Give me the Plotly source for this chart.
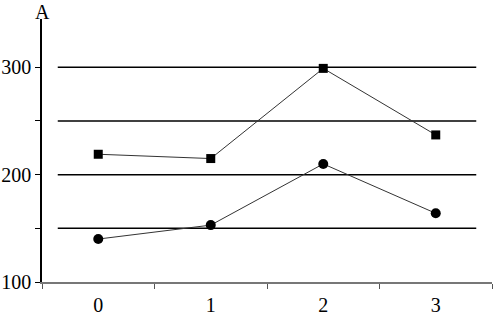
import plotly.graph_objects as go

categories = ["0", "1", "2", "3"]
square_values = [219, 215, 299, 237]
circle_values = [140, 153, 210, 164]
grid_values = [150, 200, 250, 300]
y_tick_vals = [100, 150, 200, 250, 300]
y_tick_text = ["100", "", "200", "", "300"]

FONT = "Liberation Serif, Times New Roman, serif"

fig = go.Figure()
fig.add_trace(go.Scatter(
    x=categories, y=square_values, mode="lines+markers",
    line=dict(color="#333333", width=1),
    marker=dict(symbol="square", size=9, color="black"),
    showlegend=False))
fig.add_trace(go.Scatter(
    x=categories, y=circle_values, mode="lines+markers",
    line=dict(color="#333333", width=1),
    marker=dict(symbol="circle", size=10, color="black"),
    showlegend=False))

for g in grid_values:
    fig.add_shape(type="line", xref="x", yref="y",
                  x0=-0.36, x1=3.36, y0=g, y1=g,
                  line=dict(color="black", width=1.5), layer="below")

fig.add_annotation(text="A", xref="paper", yref="paper", x=0, y=1,
                   xanchor="center", yanchor="bottom", showarrow=False,
                   font=dict(family=FONT, size=20, color="black"), yshift=-6)

fig.update_layout(
    width=494, height=317,
    margin=dict(l=42, r=2, t=19, b=35, autoexpand=False),
    plot_bgcolor="white", paper_bgcolor="white",
    font=dict(family=FONT, size=20, color="black"),
    xaxis=dict(type="category", range=[-0.5, 3.5], tickson="boundaries",
               showline=True, linecolor="#777777", linewidth=2,
               ticks="outside", ticklen=5, tickcolor="#555555", tickwidth=1,
               showgrid=False, zeroline=False, ticklabelstandoff=4,
               automargin=False, fixedrange=True),
    yaxis=dict(range=[100, 345], tickvals=y_tick_vals, ticktext=y_tick_text,
               showline=True, linecolor="black", linewidth=1.5,
               ticks="outside", ticklen=5, tickcolor="black", tickwidth=1,
               showgrid=False, zeroline=False, ticklabelstandoff=0,
               automargin=False, fixedrange=True),
)

fig.write_html("out.html", config={"displayModeBar": False},
               post_script="document.body.style.margin='0';document.body.style.padding='0';document.body.style.overflow='hidden';")
